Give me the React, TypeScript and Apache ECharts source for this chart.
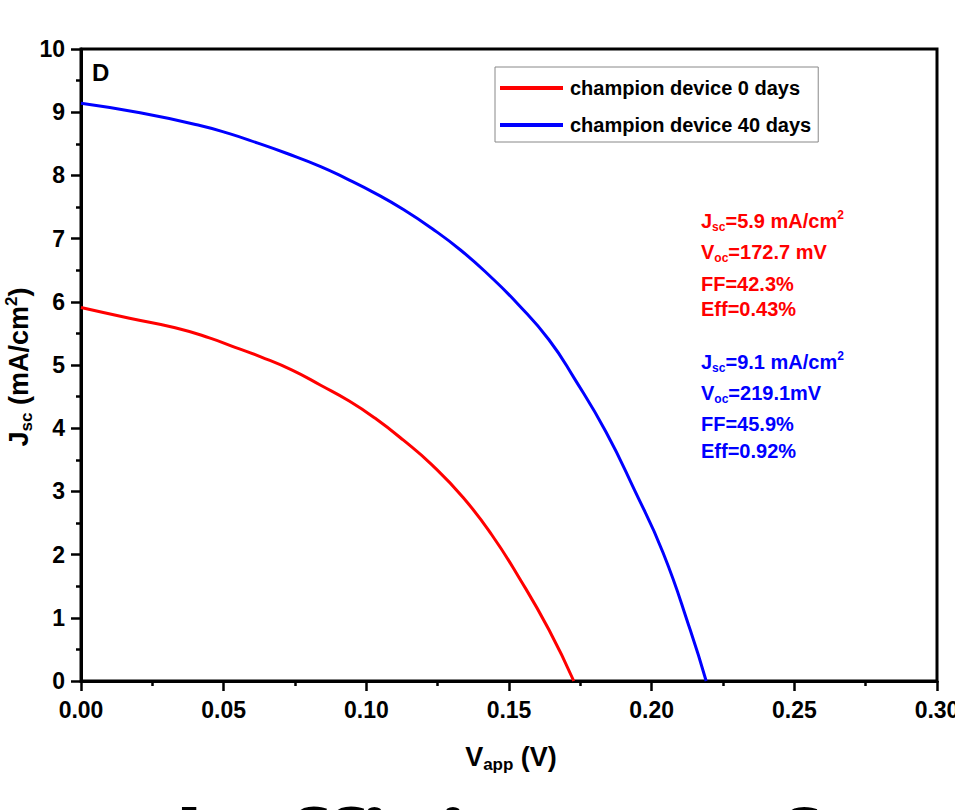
import React, { useEffect, useRef } from "react";
import * as echarts from "echarts";

const FONT = "'Liberation Sans', Arial, sans-serif";

const seriesNames = ["champion device 0 days", "champion device 40 days"];
const seriesColors = ["#ff0000", "#0000ff"];

const redV = [0, 0.017, 0.033, 0.045, 0.054, 0.063, 0.074, 0.084, 0.094, 0.103, 0.113, 0.123, 0.134, 0.144, 0.1536, 0.164, 0.1727];
const redJ = [5.91, 5.74, 5.59, 5.43, 5.28, 5.13, 4.92, 4.68, 4.43, 4.16, 3.81, 3.42, 2.9, 2.31, 1.63, 0.81, 0];

const blueV = [0, 0.0207, 0.0417, 0.052, 0.062, 0.072, 0.084, 0.093, 0.103, 0.113, 0.123, 0.133, 0.143, 0.153, 0.164, 0.173, 0.184, 0.194, 0.204, 0.2135, 0.2191];
const blueJ = [9.14, 8.99, 8.79, 8.66, 8.51, 8.35, 8.14, 7.95, 7.72, 7.46, 7.16, 6.82, 6.42, 5.97, 5.4, 4.78, 3.94, 3.02, 2.03, 0.81, 0];

// annotation lines: [main, sub, rest, sup]
const redNotes = [
  ["J", "sc", "=5.9 mA/cm", "2"],
  ["V", "oc", "=172.7 mV", ""],
  ["FF=42.3%", "", "", ""],
  ["Eff=0.43%", "", "", ""],
];
const blueNotes = [
  ["J", "sc", "=9.1 mA/cm", "2"],
  ["V", "oc", "=219.1mV", ""],
  ["FF=45.9%", "", "", ""],
  ["Eff=0.92%", "", "", ""],
];
const redNoteY = [221, 252, 284, 309];
const blueNoteY = [362, 393, 424, 451];

function richFor(color: string, size: number, subSize: number, lh: number) {
  return {
    m: { fontSize: size, fontWeight: "bold", fontFamily: FONT, fill: color, color, lineHeight: lh, verticalAlign: "middle" },
    s: { fontSize: subSize, fontWeight: "bold", fontFamily: FONT, fill: color, color, lineHeight: lh, verticalAlign: "bottom" },
    p: { fontSize: subSize, fontWeight: "bold", fontFamily: FONT, fill: color, color, lineHeight: lh, verticalAlign: "top" },
  };
}

function noteText(parts: string[]) {
  let t = "{m|" + parts[0] + "}";
  if (parts[1]) t += "{s|" + parts[1] + "}";
  if (parts[2]) t += "{m|" + parts[2] + "}";
  if (parts[3]) t += "{p|" + parts[3] + "}";
  return t;
}

export default function App() {
  const ref = useRef<HTMLDivElement>(null);
  useEffect(() => {
    document.body.style.margin = "0";
    const chart = echarts.init(ref.current!, null, { renderer: "svg" });
    const graphics: any[] = [];
    graphics.push({
      type: "text",
      x: 92,
      y: 72,
      style: { text: "D", fontSize: 24, fontWeight: "bold", fontFamily: FONT, fill: "#000", align: "left", verticalAlign: "middle" },
    });
    redNotes.forEach((p, i) =>
      graphics.push({
        type: "text",
        x: 701,
        y: redNoteY[i],
        style: { text: noteText(p), rich: richFor("#ff0000", 20, 12, 24), align: "left", verticalAlign: "middle", fill: "#ff0000" },
      })
    );
    blueNotes.forEach((p, i) =>
      graphics.push({
        type: "text",
        x: 701,
        y: blueNoteY[i],
        style: { text: noteText(p), rich: richFor("#0000ff", 20, 12, 24), align: "left", verticalAlign: "middle", fill: "#0000ff" },
      })
    );
    graphics.push({
      type: "text",
      x: 511,
      y: 757,
      style: { text: "{m|V}{s|app}{m| (V)}", rich: richFor("#000", 27, 17, 32), align: "center", verticalAlign: "middle" },
    });
    graphics.push({
      type: "text",
      x: 19,
      y: 367,
      rotation: Math.PI / 2,
      style: { text: "{m|J}{s|sc}{m| (mA/cm}{p|2}{m|)}", rich: richFor("#000", 27, 17, 32), align: "center", verticalAlign: "middle" },
    });
    graphics.push({
      type: "text",
      x: 143,
      y: 843,
      style: { text: "d efficiency of 0.92%", fontSize: 96, fontWeight: "bold", fontFamily: "'Open Sans', sans-serif", fill: "#000", align: "left", verticalAlign: "middle" },
    });

    const axisCommon = {
      axisLine: { show: true, onZero: false, lineStyle: { color: "#000", width: 3 } },
      axisTick: { show: true, inside: false, length: 10, lineStyle: { color: "#000", width: 2.5 } },
      minorTick: { show: true, splitNumber: 2, length: 5, lineStyle: { color: "#000", width: 2.5 } },
      splitLine: { show: false },
    };

    chart.setOption({
      animation: false,
      grid: {
        left: 81,
        right: 18,
        top: 49,
        bottom: 129,
        show: true,
        borderColor: "#000",
        borderWidth: 3,
        containLabel: false,
        outerBoundsMode: "none",
      },
      xAxis: {
        type: "value",
        min: 0,
        max: 0.3,
        interval: 0.05,
        ...axisCommon,
        axisLabel: { formatter: (v: number) => v.toFixed(2), fontSize: 23, fontWeight: "bold", color: "#000", fontFamily: FONT, margin: 17 },
      },
      yAxis: {
        type: "value",
        min: 0,
        max: 10,
        interval: 1,
        ...axisCommon,
        axisLabel: { fontSize: 23, fontWeight: "bold", color: "#000", fontFamily: FONT, margin: 16 },
      },
      legend: {
        orient: "vertical",
        left: 495,
        top: 67,
        padding: [11, 7, 7, 5],
        itemGap: 17,
        itemWidth: 63,
        itemHeight: 4,
        icon: "rect",
        borderColor: "#888",
        borderWidth: 1,
        backgroundColor: "#fff",
        textStyle: { fontSize: 20, fontWeight: "bold", color: "#000", fontFamily: FONT, padding: [0, 0, 0, 2] },
        data: seriesNames,
      },
      series: [
        {
          name: seriesNames[0],
          type: "line",
          data: redV.map((v, i) => [v, redJ[i]]),
          showSymbol: false,
          symbol: "none",
          smooth: 0.5,
          lineStyle: { color: seriesColors[0], width: 3 },
          itemStyle: { color: seriesColors[0] },
        },
        {
          name: seriesNames[1],
          type: "line",
          data: blueV.map((v, i) => [v, blueJ[i]]),
          showSymbol: false,
          symbol: "none",
          smooth: 0.5,
          lineStyle: { color: seriesColors[1], width: 3 },
          itemStyle: { color: seriesColors[1] },
        },
      ],
      graphic: graphics,
    });
    return () => chart.dispose();
  }, []);
  return <div ref={ref} style={{ width: 955, height: 810, overflow: "hidden" }} />;
}
